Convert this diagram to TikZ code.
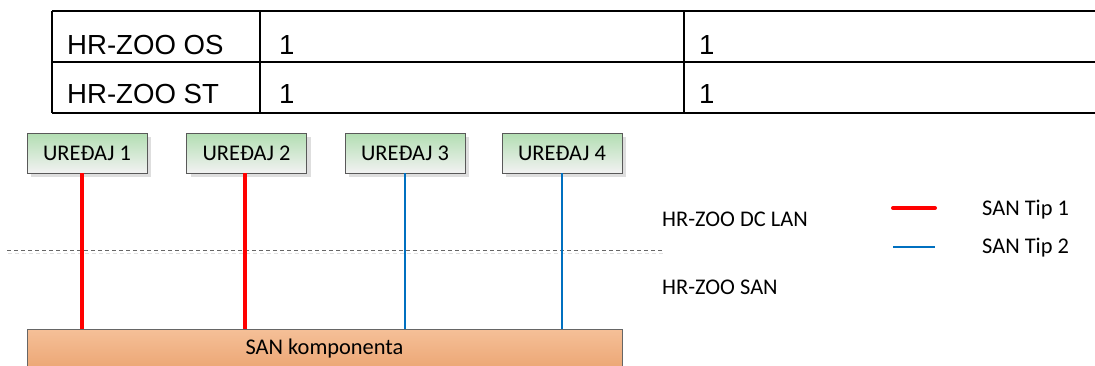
\documentclass[tikz,border=0pt]{standalone}
\usepackage{fontspec}
\setmainfont{Carlito}
\newfontfamily\tabfont{Liberation Sans}
\usetikzlibrary{positioning,shadows}
\definecolor{devtop}{RGB}{178,222,178}
\definecolor{devbot}{RGB}{242,242,242}
\definecolor{santop}{RGB}{245,192,152}
\definecolor{sanbot}{RGB}{236,166,116}
\definecolor{tiptwo}{RGB}{0,112,192}
\newcommand{\clrtipone}{red}
\newcommand{\clrtiptwo}{tiptwo}
\tikzset{
    device/.style={draw=black!65, line width=0.8pt, top color=devtop, bottom color=devbot,
        minimum width=120pt, minimum height=40pt, inner sep=0pt,
        font=\fontsize{22.4}{25}\selectfont,
        drop shadow={shadow xshift=4pt, shadow yshift=-4pt, fill=black!13, opacity=1}},
    sanbox/.style={draw=black!60, line width=0.8pt, top color=santop, bottom color=sanbot,
        minimum width=595pt, minimum height=40pt, inner sep=0pt,
        font=\fontsize{22.4}{25}\selectfont},
    cell/.style={anchor=base west, inner sep=0pt, font=\tabfont\fontsize{27.6}{30}\selectfont},
    label/.style={anchor=west, inner sep=0pt, font=\fontsize{22.4}{25}\selectfont},
    tipone/.style={draw=\clrtipone, line width=4pt},
    tiptwo/.style={draw=\clrtiptwo, line width=2.5pt},
    grid/.style={line width=2pt},
}
\begin{document}
\begin{tikzpicture}[x=1pt, y=-1pt]
    \useasboundingbox (0,0) rectangle (1095,365);
    \clip (0,0) rectangle (1095,365);
%table
    \draw[grid] (52,11) -- (1100,11) (52,62) -- (1100,62) (52,113) -- (1100,113);
    \draw[grid] (52,11) -- (52,113) (260,11) -- (260,113) (684,11) -- (684,113);
    \node[cell] (os) at (67,54) {HR-ZOO OS};
    \node[cell] (osa) at (279,54) {1};
    \node[cell] (osb) at (699,54) {1};
    \node[cell] (st) at (67,103) {HR-ZOO ST};
    \node[cell] (sta) at (279,103) {1};
    \node[cell] (stb) at (699,103) {1};
%layers
    \draw[black!12, line width=1pt, dash pattern=on 4pt off 3pt] (8,253) -- (664,253);
    \draw[black!60, line width=1pt, dash pattern=on 4pt off 3pt] (7,250) -- (662,250);
    \node[label] (lan) at (662,219) {HR-ZOO DC LAN};
    \node[label] (sanlbl) at (662,287) {HR-ZOO SAN};
%devices
    \node[sanbox] (san) at (324.5,349) {SAN komponenta};
    \foreach \i/\x in {1/87,2/246.5,3/405,4/562} {
        \node[device] (dev\i) at (\x,153) {UREĐAJ \i};
    }
    \draw[tipone] ([xshift=-5pt]dev1.south) -- ([xshift=-5pt]dev1.south |- san.north);
    \draw[tipone] ([xshift=-1.5pt]dev2.south) -- ([xshift=-1.5pt]dev2.south |- san.north);
    \draw[tiptwo] (dev3.south) -- (dev3.south |- san.north);
    \draw[tiptwo] (dev4.south) -- (dev4.south |- san.north);
%legend
    \coordinate (tip1a) at (893,208);
    \coordinate (tip1b) at (935,208);
    \coordinate (tip2a) at (893,247);
    \coordinate (tip2b) at (935,247);
    \draw[tipone, line cap=round] (tip1a) -- (tip1b);
    \draw[tiptwo] (tip2a) -- (tip2b);
    \node[label] (tip1) at (982,210) {SAN Tip 1};
    \node[label] (tip2) at (982,248) {SAN Tip 2};
\end{tikzpicture}
\end{document}
